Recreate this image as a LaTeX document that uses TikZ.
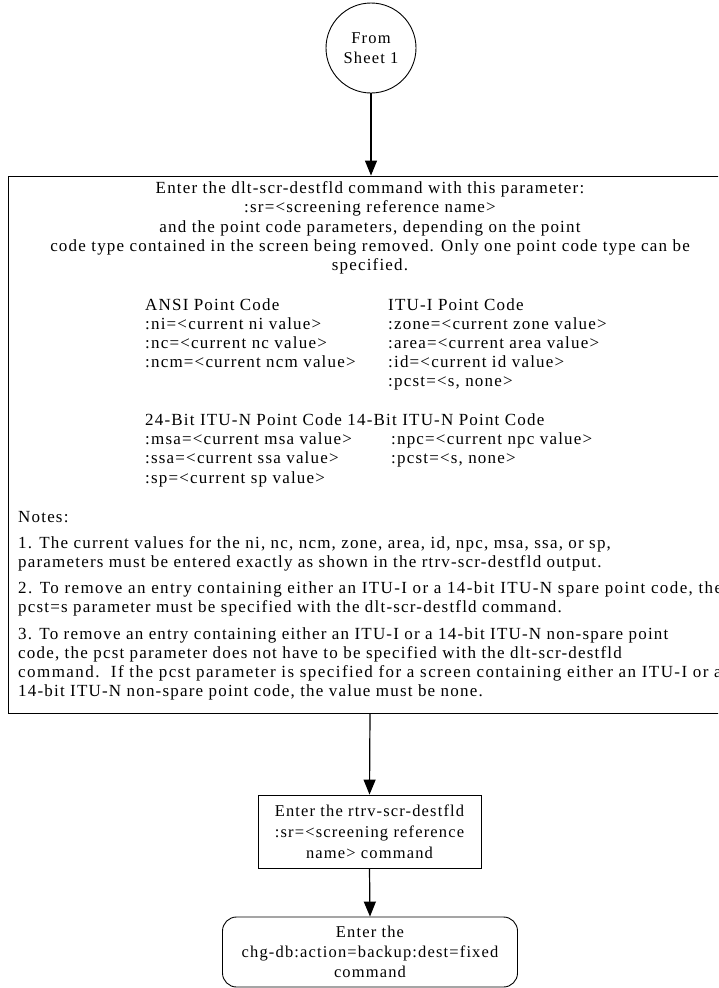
\documentclass[tikz,border=0pt]{standalone}
\usepackage{fontspec}
\setmainfont{Liberation Serif}[LetterSpace=7]
\usetikzlibrary{arrows.meta}
\begin{document}
\begin{tikzpicture}[x=1pt,y=-1pt,
  txt/.style={inner sep=0pt, font=\fontsize{17}{19.5}\selectfont},
  ln/.style={txt, anchor=base},
  lw/.style={txt, anchor=base west},
  lwide/.style={lw, font=\fontsize{17}{19.5}\selectfont\addfontfeature{LetterSpace=#1}},
  boxline/.style={draw, line width=0.9pt},
  arr/.style={line width=1.2pt, -{Triangle[length=15pt,width=12pt]}},
  ]
\useasboundingbox (0,0) rectangle (718,988);
\clip (0,0) rectangle (718,988);

\node[boxline, circle, minimum size=90pt, inner sep=0pt, align=center,
  font=\fontsize{16.5}{20}\selectfont] (start) at (371,48) {From\\Sheet 1};

\node[boxline, minimum width=724pt, minimum height=537pt, inner sep=0pt] (big) at (370,444.5) {};

\node[ln] (t1) at (370,193) {Enter the dlt-scr-destfld command with this parameter:};
\node[ln] (t2) at (370,212) {:sr=<screening reference name>};
\node[ln] (t3) at (370,232) {and the point code parameters, depending on the point};
\node[ln] (t4) at (370,251) {code type contained in the screen being removed. Only one point code type can be};
\node[ln] (t5) at (370,270) {specified.};

\node[lw] (a0) at (145,310) {ANSI Point Code};
\node[lw] (a1) at (145,329) {:ni=<current ni value>};
\node[lw] (a2) at (145,348) {:nc=<current nc value>};
\node[lw] (a3) at (145,367) {:ncm=<current ncm value>};

\node[lw] (i0) at (388,310) {ITU-I Point Code};
\node[lw] (i1) at (388,329) {:zone=<current zone value>};
\node[lw] (i2) at (388,348) {:area=<current area value>};
\node[lw] (i3) at (388,367) {:id=<current id value>};
\node[lw] (i4) at (388,386) {:pcst=<s, none>};

\node[lw] (n0) at (145,425) {24-Bit ITU-N Point Code 14-Bit ITU-N Point Code};
\node[lw] (n1) at (145,444) {:msa=<current msa value>};
\node[lw] (n2) at (145,463) {:ssa=<current ssa value>};
\node[lw] (n3) at (145,483) {:sp=<current sp value>};
\node[lw] (m1) at (391,444) {:npc=<current npc value>};
\node[lw] (m2) at (391,463) {:pcst=<s, none>};

\node[lw] (notes) at (18,522) {Notes:};
\node[lw] (p1a) at (18,548) {1. The current values for the ni, nc, ncm, zone, area, id, npc, msa, ssa, or sp,};
\node[lw] (p1b) at (18,567) {parameters must be entered exactly as shown in the rtrv-scr-destfld output.};
\node[lwide=8.2] (p2a) at (18,593) {2. To remove an entry containing either an ITU-I or a 14-bit ITU-N spare point code, the};
\node[lw] (p2b) at (18,612) {pcst=s parameter must be specified with the dlt-scr-destfld command.};
\node[lw] (p3a) at (18,639) {3. To remove an entry containing either an ITU-I or a 14-bit ITU-N non-spare point};
\node[lw] (p3b) at (18,658) {code, the pcst parameter does not have to be specified with the dlt-scr-destfld};
\node[lwide=8.5] (p3c) at (18,677) {command.\ \ If the pcst parameter is specified for a screen containing either an ITU-I or a};
\node[lw] (p3d) at (18,696) {14-bit ITU-N non-spare point code, the value must be none.};

\node[boxline, minimum width=223pt, minimum height=73pt, inner sep=0pt, align=center,
  font=\fontsize{16.5}{21}\selectfont] (rtrv) at (369.5,831.5)
  {Enter the rtrv-scr-destfld\\:sr=<screening reference\\name> command};

\node[boxline, rounded corners=14pt, minimum width=295pt, minimum height=70pt, inner sep=0pt, align=center,
  font=\fontsize{16.5}{20}\selectfont] (bkp) at (370,952)
  {Enter the\\chg-db:action=backup:dest=fixed\\command};

\draw[arr] (start.south) -- (start.south |- big.north);
\draw[arr] (big.south) -- (rtrv.north);
\draw[arr] (rtrv.south) -- (bkp.north);
\end{tikzpicture}
\end{document}
